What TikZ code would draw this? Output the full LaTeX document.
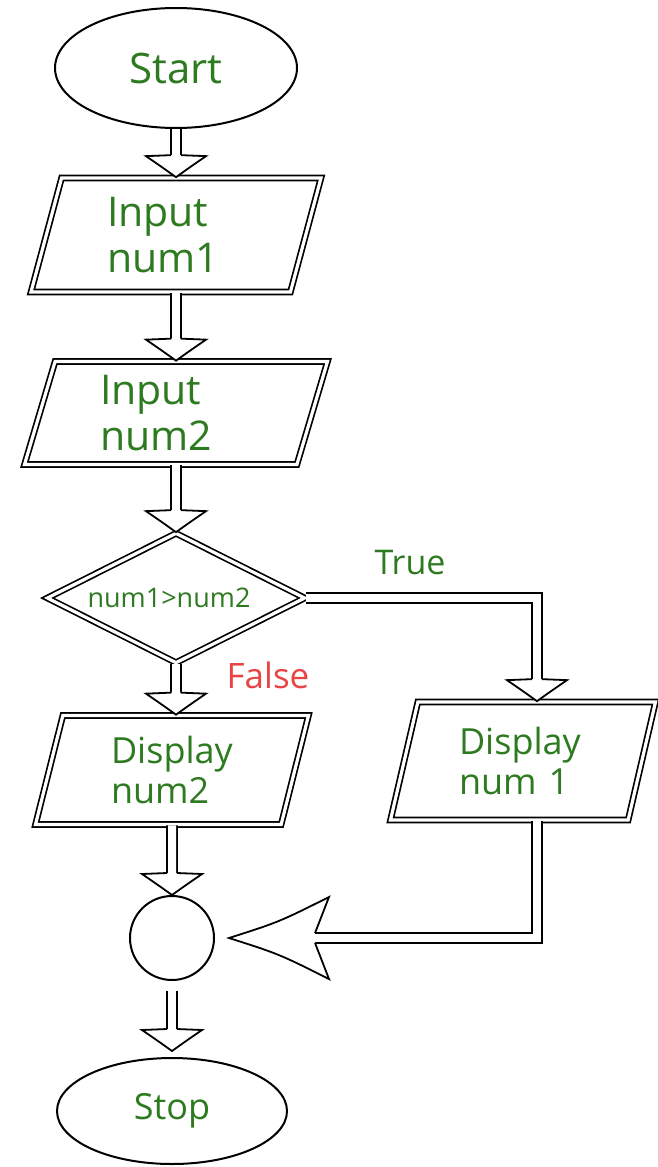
\documentclass[tikz,border=0pt]{standalone}
\usepackage{fontspec}
\setmainfont{Open Sans}
\usetikzlibrary{shapes.geometric, decorations.markings}

\definecolor{boxgreen}{RGB}{45,122,32}
\definecolor{falsered}{RGB}{232,68,68}

\tikzset{
    term/.style={ellipse, draw, line width=2pt, inner sep=0pt, text=boxgreen},
    iobox/.style={trapezium, trapezium left angle=68, trapezium right angle=112,
        trapezium stretches body, draw, line width=1.7pt, double=white,
        double distance=3.2pt, inner sep=0pt, text width=#1, align=left,
        text=boxgreen},
    pipe/.style={preaction={draw, line width=1.8pt, double=white,
            double distance=8pt, shorten >=16pt},
        postaction={decorate, decoration={markings, mark=at position 1 with
            {\filldraw[line width=1.8pt, fill=white] (-22pt,4.9pt) -- (-21pt,30pt)
                .. controls (-10pt,14pt) .. (0pt,0pt)
                .. controls (-10pt,-14pt) .. (-21pt,-30pt) -- (-22pt,-4.9pt);}}}},
    widepipe/.style={preaction={draw, line width=1.8pt, double=white,
            double distance=8pt, shorten >=70pt},
        postaction={decorate, decoration={markings, mark=at position 1 with
            {\filldraw[line width=1.8pt, fill=white] (-86pt,4.9pt) -- (-100pt,41pt)
                .. controls (-50pt,16pt) .. (0pt,0pt)
                .. controls (-50pt,-16pt) .. (-100pt,-41pt) -- (-86pt,-4.9pt);}}}}
}

\begin{document}
\begin{tikzpicture}[x=1pt, y=-1pt]

    \useasboundingbox (0,0) rectangle (657,1167);

    \node[term, minimum width=242pt, minimum height=120pt,
        font=\fontsize{42pt}{46pt}\selectfont] (start) at (176,68) {Start};
    \node[iobox=138pt, minimum width=290pt, minimum height=114pt,
        font=\fontsize{41pt}{46pt}\selectfont] (in1) at (176,235) {Input\\num1};
    \node[iobox=152pt, minimum width=303pt, minimum height=103pt,
        font=\fontsize{41pt}{46pt}\selectfont] (in2) at (176,413) {Input\\num2};
    \node[diamond, aspect=2, draw, line width=1.7pt, double=white,
        double distance=3.2pt, inner sep=0pt, minimum width=258pt,
        minimum height=130pt, text=boxgreen,
        font=\fontsize{27pt}{30pt}\selectfont] (cond) at (176,598) {\raisebox{-4pt}{num1>num2}\hspace*{14pt}};
    \node[iobox=122pt, minimum width=273pt, minimum height=109pt,
        font=\fontsize{36pt}{40pt}\selectfont] (show2) at (172,770) {Display\\num2};
    \node[iobox=128pt, minimum width=265pt, minimum height=118pt,
        font=\fontsize{36pt}{40pt}\selectfont] (show1) at (523,761) {Display\\num 1};
    \node[circle, draw, line width=2pt, minimum size=84pt] (join) at (172,938) {};
    \node[term, minimum width=230pt, minimum height=106pt,
        font=\fontsize{36pt}{40pt}\selectfont] (stop) at (172,1111) {Stop};

    \node[text=boxgreen, font=\fontsize{34pt}{38pt}\selectfont] (truelbl) at (410,563) {True};
    \node[text=falsered, font=\fontsize{35pt}{38pt}\selectfont] (falselbl) at (268,675) {False};

    % hollow arrows down the main column
    \path[pipe] (start.south) -- (start.south |- in1.north);
    \path[pipe] (in1.south) -- (in1.south |- in2.north);
    \path[pipe] (in2.south) -- (in2.south |- cond.north);
    \path[pipe] (cond.south) -- (cond.south |- show2.north);
    \path[pipe] (show2.south) -- (join.north);
    \path[pipe] ([yshift=-10pt]join.south) -- ([yshift=6pt]stop.north);

    \coordinate (truebend) at (537,598);
    \path[pipe] (cond.east) -- (truebend) -- (truebend |- show1.north);
    \path[widepipe] (truebend |- show1.south) |- ([xshift=14pt]join.east);

\end{tikzpicture}
\end{document}
